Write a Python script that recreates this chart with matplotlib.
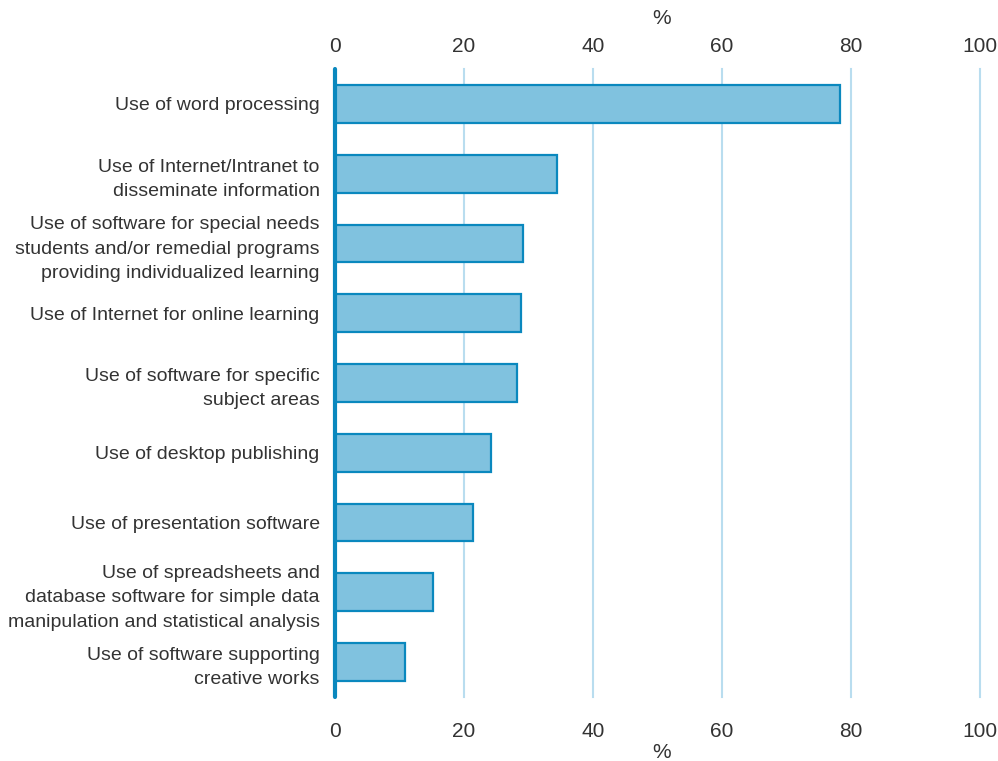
import matplotlib.pyplot as plt
import numpy as np

# Uso de las TIC en la ensenanza (% de alumnos)
categorias = [
    "Use of word processing",
    "Use of Internet/Intranet to\ndisseminate information",
    "Use of software for special needs\nstudents and/or remedial programs\nproviding individualized learning",
    "Use of Internet for online learning",
    "Use of software for specific\nsubject areas",
    "Use of desktop publishing",
    "Use of presentation software",
    "Use of spreadsheets and\ndatabase software for simple data\nmanipulation and statistical analysis",
    "Use of software supporting\ncreative works",
]
valores = [78.3, 34.4, 29.1, 28.8, 28.2, 24.2, 21.4, 15.2, 10.9]
ticks_x = [0, 20, 40, 60, 80, 100]

plt.rcParams['font.family'] = ['Liberation Sans', 'DejaVu Sans']
gris = '#333333'

fig = plt.figure(figsize=(9.98, 7.61), dpi=100)
ax = fig.add_axes([335/998, 1-697/761, (980-335)/998, (697-69)/761])

y = np.arange(len(categorias))
ax.barh(y, valores, height=0.54, color='#80C2DF', edgecolor='#0A88BE',
        linewidth=1.6, zorder=3)

ax.set_ylim(len(categorias) - 0.5, -0.5)
ax.set_xlim(0, 100)
ax.set_yticks(y)
ax.set_yticklabels(categorias, fontsize=14, color=gris, linespacing=1.55)
ax.set_xticks(ticks_x)
ax.tick_params(axis='x', length=0, pad=18, labelsize=15, labelcolor=gris)
ax.tick_params(axis='y', length=0, pad=11)

# eje superior con su propio espaciado
arriba = ax.secondary_xaxis('top')
arriba.set_xticks(ticks_x)
arriba.tick_params(length=0, pad=9, labelsize=15, labelcolor=gris)
arriba.spines['top'].set_visible(False)

for t in ticks_x[1:]:
    ax.axvline(t, color='#B9DDEF', linewidth=1.5, zorder=1, clip_on=False)

for s in ['top', 'right', 'bottom']:
    ax.spines[s].set_visible(False)
ax.spines['left'].set_color('#0A88BE')
ax.spines['left'].set_linewidth(3)
ax.spines['left'].set_capstyle('round')
ax.spines['left'].set_zorder(4)

fig.text(662/998, 1-18/761, '%', ha='center', va='center', fontsize=15, color=gris)
fig.text(662/998, 1-752/761, '%', ha='center', va='center', fontsize=15, color=gris)

fig.savefig('out.png', dpi=100)
